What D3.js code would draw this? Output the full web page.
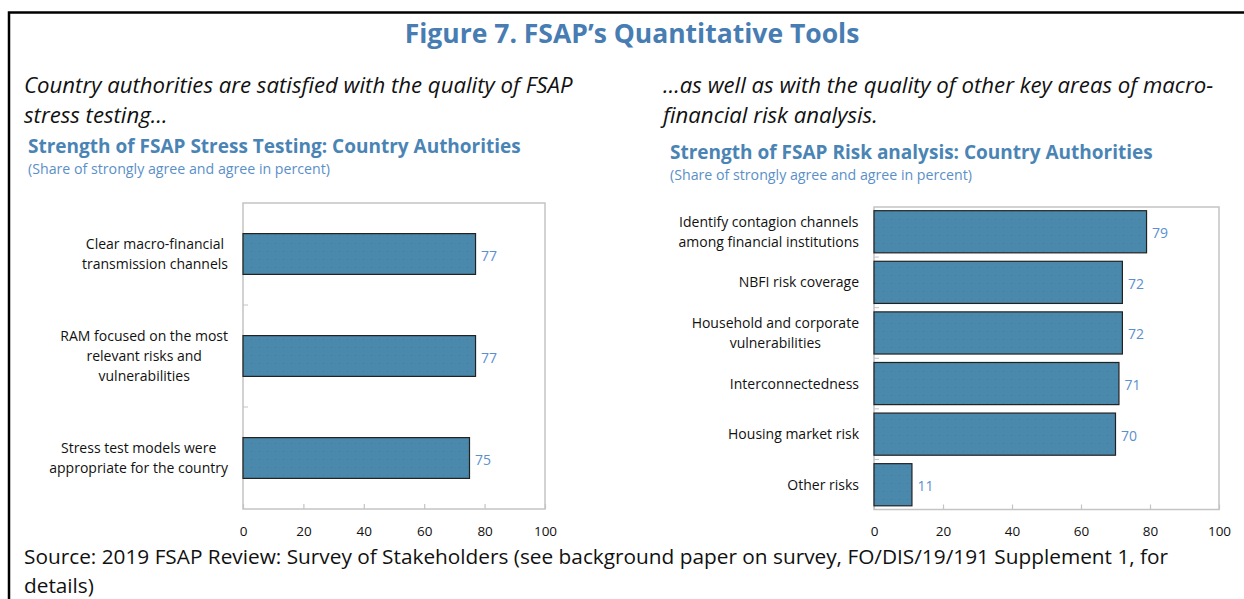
<!DOCTYPE html>
<html>
<head>
<meta charset="utf-8">
<script src="https://cdn.jsdelivr.net/npm/d3@7"></script>
<style>
  body { margin: 0; background: #fff; }
  text { font-family: "Open Sans", "Noto Sans", sans-serif; }
</style>
</head>
<body>
<script>
// data
var stressCats = [
  "Clear macro-financial\ntransmission channels",
  "RAM focused on the most\nrelevant risks and\nvulnerabilities",
  "Stress test models were\nappropriate for the country"
];
var stressVals = [77, 77, 75];

var riskCats = [
  "Identify contagion channels\namong financial institutions",
  "NBFI risk coverage",
  "Household and corporate\nvulnerabilities",
  "Interconnectedness",
  "Housing market risk",
  "Other risks"
];
var riskVals = [79, 72, 72, 71, 70, 11];

var xTicks = [0, 20, 40, 60, 80, 100];

var width = 1244, height = 599;
var barColor = "#4a89ab";
var svg = d3.select("body").append("svg")
  .attr("width", width)
  .attr("height", height);

// dotted texture on bars
var pat = svg.append("defs").append("pattern")
  .attr("id", "dots")
  .attr("width", 8).attr("height", 8)
  .attr("patternUnits", "userSpaceOnUse");
pat.append("rect").attr("width", 8).attr("height", 8).attr("fill", barColor);
pat.append("rect").attr("x", 3).attr("y", 3).attr("width", 1).attr("height", 1).attr("fill", "#3f7c9d");

// outer border (top + left)
svg.append("path")
  .attr("d", "M9,599V12.5H1244")
  .attr("fill", "none")
  .attr("stroke", "#000")
  .attr("stroke-width", 2.5);

// heading
svg.append("text")
  .attr("x", 632).attr("y", 43)
  .attr("text-anchor", "middle")
  .attr("font-size", 26.5).attr("font-weight", 700)
  .attr("fill", "#477db2")
  .text("Figure 7. FSAP\u2019s Quantitative Tools");

function lines(x, y, arr, opts) {
  arr.forEach(function(s, i) {
    svg.append("text")
      .attr("x", x).attr("y", y + i * opts.lh)
      .attr("font-size", opts.size)
      .attr("font-style", opts.italic ? "italic" : null)
      .attr("font-weight", opts.weight || null)
      .attr("fill", opts.color)
      .text(s);
  });
}

lines(24, 93, ["Country authorities are satisfied with the quality of FSAP", "stress testing\u2026"],
  {size: 22.2, italic: true, color: "#111", lh: 30});
lines(663, 93, ["\u2026as well as with the quality of other key areas of macro-", "financial risk analysis."],
  {size: 22.2, italic: true, color: "#111", lh: 30});

lines(28, 153, ["Strength of FSAP Stress Testing: Country Authorities"],
  {size: 19, weight: 700, color: "#4a84b5", lh: 0});
lines(28, 174, ["(Share of strongly agree and agree in percent)"],
  {size: 14.2, color: "#5a8fc8", lh: 0});
lines(670, 159, ["Strength of FSAP Risk analysis: Country Authorities"],
  {size: 19, weight: 700, color: "#4a84b5", lh: 0});
lines(670, 180, ["(Share of strongly agree and agree in percent)"],
  {size: 14.2, color: "#5a8fc8", lh: 0});

lines(24, 564, ["Source: 2019 FSAP Review: Survey of Stakeholders (see background paper on survey, FO/DIS/19/191 Supplement 1, for", "details)"],
  {size: 20.8, color: "#111", lh: 28.5});

function barChart(cats, vals, box, padIn, padOut) {
  var x = d3.scaleLinear().domain([0, 100]).range([box.left, box.right]);
  var y = d3.scaleBand().domain(cats)
    .range([box.top, box.bottom])
    .paddingInner(padIn).paddingOuter(padOut);

  var g = svg.append("g");

  // frame
  g.append("rect")
    .attr("x", box.left).attr("y", box.top)
    .attr("width", box.right - box.left).attr("height", box.bottom - box.top)
    .attr("fill", "none").attr("stroke", "#c4c4c4").attr("stroke-width", 1.5);

  // category separators
  g.selectAll(".sep")
    .data(cats.slice(1))
    .enter().append("line")
    .attr("x1", box.left).attr("x2", box.left + 5)
    .attr("y1", function(d) { return y(d) - y.step() * padIn / 2; })
    .attr("y2", function(d) { return y(d) - y.step() * padIn / 2; })
    .attr("stroke", "#c4c4c4").attr("stroke-width", 1);

  // x axis
  var ax = g.append("g")
    .attr("transform", "translate(0," + box.bottom + ")")
    .call(d3.axisBottom(x).tickValues(xTicks).tickSizeInner(-5).tickSizeOuter(0).tickPadding(17));
  ax.select(".domain").remove();
  ax.selectAll(".tick line").attr("stroke", "#c4c4c4").attr("stroke-width", 1.2);
  ax.selectAll(".tick text")
    .attr("font-family", "Open Sans")
    .attr("font-size", 13.5).attr("fill", "#111");

  // bars
  g.selectAll(".bar")
    .data(vals)
    .enter().append("rect")
    .attr("x", x(0))
    .attr("y", function(d, i) { return y(cats[i]); })
    .attr("width", function(d) { return x(d) - x(0); })
    .attr("height", y.bandwidth())
    .attr("fill", "url(#dots)")
    .attr("stroke", "#222").attr("stroke-width", 1.2);

  // value labels
  g.selectAll(".val")
    .data(vals)
    .enter().append("text")
    .attr("x", function(d) { return x(d) + 5.5; })
    .attr("y", function(d, i) { return y(cats[i]) + y.bandwidth() / 2 + 6.5; })
    .attr("font-size", 14).attr("fill", "#5b8fd0")
    .text(function(d) { return d; });

  // category labels: block right-aligned, lines centered
  cats.forEach(function(c) {
    var parts = c.split("\n");
    var cy = y(c) + y.bandwidth() / 2;
    var t = g.append("text")
      .attr("font-size", 14).attr("fill", "#111")
      .attr("text-anchor", "middle");
    var spans = parts.map(function(s, i) {
      return t.append("tspan")
        .attr("y", cy - (parts.length - 1) * 10 + 5 + i * 20)
        .text(s);
    });
    var w = d3.max(spans, function(s) { return s.node().getComputedTextLength(); });
    spans.forEach(function(s) { s.attr("x", box.left - 15 - w / 2); });
  });
}

barChart(stressCats, stressVals, {left: 243, right: 545, top: 203, bottom: 509}, 0.6, 0.3);
barChart(riskCats, riskVals, {left: 874, right: 1219, top: 207, bottom: 509.5}, 0.167, 0.073);
</script>
</body>
</html>
